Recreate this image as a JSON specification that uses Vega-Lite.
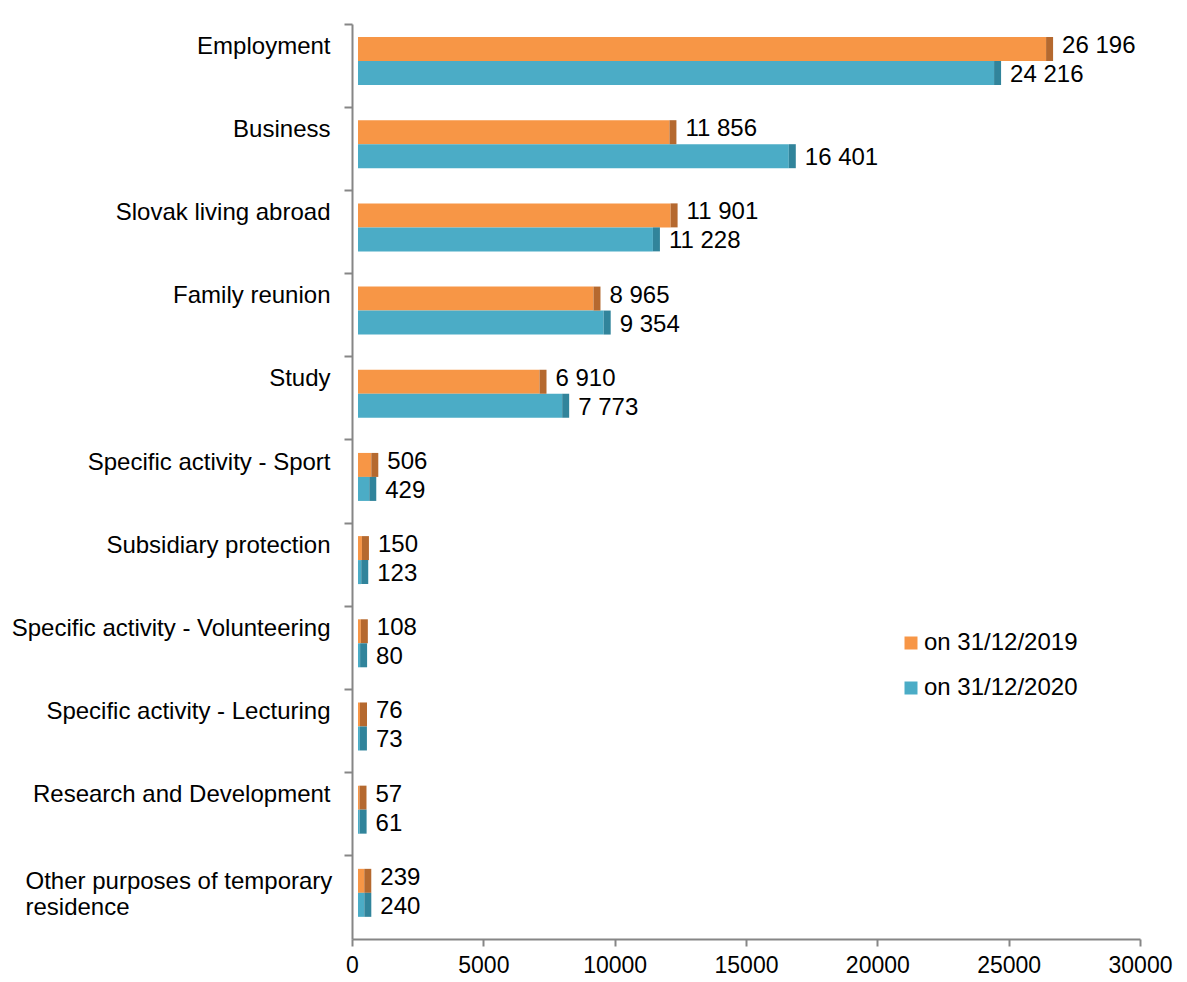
{
  "$schema": "https://vega.github.io/schema/vega-lite/v6.json",
  "width": 788,
  "height": 915,
  "autosize": {"type": "none"},
  "padding": {"left": 352, "top": 24, "right": 47, "bottom": 43},
  "background": "white",
  "config": {
    "font": "Liberation Sans",
    "view": {"stroke": null},
    "locale": {"number": {"decimal": ",", "thousands": " ", "grouping": [3], "currency": ["", ""]}}
  },
  "data": {"values": [
    {"purpose": "Employment", "series": "on 31/12/2019", "value": 26196},
    {"purpose": "Employment", "series": "on 31/12/2020", "value": 24216},
    {"purpose": "Business", "series": "on 31/12/2019", "value": 11856},
    {"purpose": "Business", "series": "on 31/12/2020", "value": 16401},
    {"purpose": "Slovak living abroad", "series": "on 31/12/2019", "value": 11901},
    {"purpose": "Slovak living abroad", "series": "on 31/12/2020", "value": 11228},
    {"purpose": "Family reunion", "series": "on 31/12/2019", "value": 8965},
    {"purpose": "Family reunion", "series": "on 31/12/2020", "value": 9354},
    {"purpose": "Study", "series": "on 31/12/2019", "value": 6910},
    {"purpose": "Study", "series": "on 31/12/2020", "value": 7773},
    {"purpose": "Specific activity - Sport", "series": "on 31/12/2019", "value": 506},
    {"purpose": "Specific activity - Sport", "series": "on 31/12/2020", "value": 429},
    {"purpose": "Subsidiary protection", "series": "on 31/12/2019", "value": 150},
    {"purpose": "Subsidiary protection", "series": "on 31/12/2020", "value": 123},
    {"purpose": "Specific activity - Volunteering", "series": "on 31/12/2019", "value": 108},
    {"purpose": "Specific activity - Volunteering", "series": "on 31/12/2020", "value": 80},
    {"purpose": "Specific activity - Lecturing", "series": "on 31/12/2019", "value": 76},
    {"purpose": "Specific activity - Lecturing", "series": "on 31/12/2020", "value": 73},
    {"purpose": "Research and Development", "series": "on 31/12/2019", "value": 57},
    {"purpose": "Research and Development", "series": "on 31/12/2020", "value": 61},
    {"purpose": "Other purposes of temporary residence", "series": "on 31/12/2019", "value": 239},
    {"purpose": "Other purposes of temporary residence", "series": "on 31/12/2020", "value": 240}
  ]},
  "encoding": {
    "y": {
      "field": "purpose", "type": "nominal", "sort": null, "title": null,
      "scale": {"paddingInner": 0, "paddingOuter": 0},
      "axis": {
        "bandPosition": 0,
        "domainColor": "#868686", "domainWidth": 2,
        "tickColor": "#868686", "tickWidth": 2, "tickSize": 8,
        "labelFontSize": 24, "labelColor": "#000000",
        "labelLimit": 400, "labelLineHeight": 26,
        "labelPadding": {"condition": {"test": "datum.value == 'Other purposes of temporary residence'", "value": 319}, "value": 14},
        "labelAlign": {"condition": {"test": "datum.value == 'Other purposes of temporary residence'", "value": "left"}, "value": "right"},
        "labelOffset": {"condition": {"test": "datum.value == 'Other purposes of temporary residence'", "value": -15}, "value": -19},
        "labelExpr": "datum.value == 'Other purposes of temporary residence' ? ['Other purposes of temporary', 'residence'] : datum.value"
      }
    },
    "yOffset": {"field": "series", "type": "nominal", "scale": {"paddingOuter": 0.733, "paddingInner": 0, "align": 0.37}},
    "x": {
      "field": "value", "type": "quantitative", "title": null,
      "scale": {"domain": [0, 30000], "nice": false},
      "axis": {
        "values": [0, 5000, 10000, 15000, 20000, 25000, 30000], "format": "d",
        "grid": false, "labelFlush": false,
        "domainColor": "#868686", "domainWidth": 2,
        "tickColor": "#868686", "tickWidth": 2, "tickSize": 7,
        "labelFontSize": 23, "labelColor": "#000000", "labelPadding": 8
      }
    }
  },
  "layer": [
    {
      "mark": {"type": "bar", "xOffset": 6, "x2Offset": 6},
      "encoding": {
        "color": {
          "field": "series", "type": "nominal",
          "scale": {"domain": ["on 31/12/2019", "on 31/12/2020"], "range": ["#F79646", "#4BACC6"]},
          "legend": {
            "title": null, "orient": "none", "legendX": 547, "legendY": 607,
            "symbolType": "square", "symbolSize": 169, "symbolStrokeWidth": 0,
            "labelFontSize": 24, "labelColor": "#000000", "rowPadding": 21, "labelOffset": 1
          }
        }
      }
    },
    {
      "mark": {"type": "tick", "orient": "vertical", "thickness": 7, "size": 24, "xOffset": 9.5, "opacity": 1},
      "encoding": {
        "color": {"condition": {"test": "datum.series == 'on 31/12/2019'", "value": "#B5692F"}, "value": "#31849B"}
      }
    },
    {
      "transform": [{"filter": "datum.series == 'on 31/12/2019'"}],
      "mark": {"type": "text", "align": "left", "baseline": "middle", "dx": 22, "dy": -3, "fontSize": 24, "color": "#000000"},
      "encoding": {"text": {"field": "value", "type": "quantitative", "format": ","}}
    },
    {
      "transform": [{"filter": "datum.series == 'on 31/12/2020'"}],
      "mark": {"type": "text", "align": "left", "baseline": "middle", "dx": 22, "dy": 2, "fontSize": 24, "color": "#000000"},
      "encoding": {"text": {"field": "value", "type": "quantitative", "format": ","}}
    }
  ]
}
